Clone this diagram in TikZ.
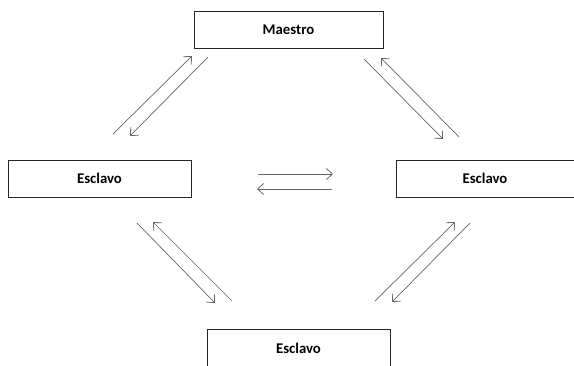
\documentclass[tikz,border=0pt]{standalone}
\usepackage{fontspec}
\setmainfont{Carlito}
\usetikzlibrary{arrows.meta}
\begin{document}
\begin{tikzpicture}[x=1pt,y=-1pt,
  box/.style={draw=black!85,line width=0.9pt,fill=white,inner sep=0pt,font=\fontsize{14.8}{17}\selectfont\bfseries},
  link/.style={draw=black!60,line width=0.7pt,-{Straight Barb[length=6pt,width=11pt,line width=0.8pt]}}]
\useasboundingbox (0,0) rectangle (574,365);
% boxes
\node[box,minimum width=189pt,minimum height=37pt] (m) at (288.5,29.5) {Maestro};
\node[box,minimum width=183pt,minimum height=37pt] (l) at (99.5,178.5) {Esclavo};
\node[box,minimum width=178pt,minimum height=37pt] (r) at (485,178.5) {Esclavo};
\node[box,minimum width=183pt,minimum height=37pt] (b) at (298.5,348) {Esclavo};
% arrow endpoints
\coordinate (a1s) at (113,134); \coordinate (a1e) at (192,56);
\coordinate (a2s) at (208,57);  \coordinate (a2e) at (130,136);
\coordinate (b1s) at (364,59);  \coordinate (b1e) at (443,139);
\coordinate (b2s) at (459,137); \coordinate (b2e) at (381,58);
\coordinate (c1s) at (258,174); \coordinate (c1e) at (333,174);
\coordinate (c2s) at (332,189); \coordinate (c2e) at (257,189);
\coordinate (d1s) at (137,223); \coordinate (d1e) at (215,303);
\coordinate (d2s) at (232,301); \coordinate (d2e) at (153,222);
\coordinate (e1s) at (375,301); \coordinate (e1e) at (455,222);
\coordinate (e2s) at (470,223); \coordinate (e2e) at (392,302);
\draw[link] (a1s) -- (a1e);
\draw[link] (a2s) -- (a2e);
\draw[link] (b1s) -- (b1e);
\draw[link] (b2s) -- (b2e);
\draw[link] (c1s) -- (c1e);
\draw[link] (c2s) -- (c2e);
\draw[link] (d1s) -- (d1e);
\draw[link] (d2s) -- (d2e);
\draw[link] (e1s) -- (e1e);
\draw[link] (e2s) -- (e2e);
\end{tikzpicture}
\end{document}
